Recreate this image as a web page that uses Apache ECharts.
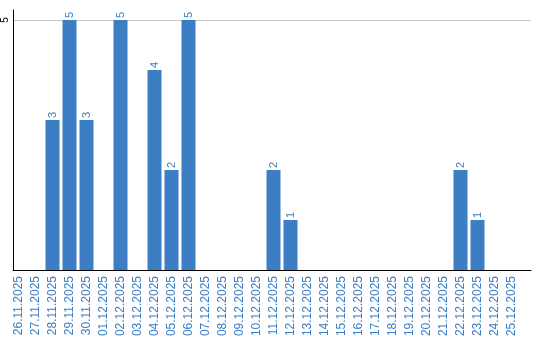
<!DOCTYPE html>
<html><head><meta charset="utf-8">
<script src="https://cdn.jsdelivr.net/npm/echarts@6/dist/echarts.min.js"></script>
<style>html,body{margin:0;padding:0;background:#fff}#c{width:540px;height:340px}</style>
</head><body><div id="c"></div>
<script>
var categories = ['26.11.2025','27.11.2025','28.11.2025','29.11.2025','30.11.2025','01.12.2025','02.12.2025','03.12.2025','04.12.2025','05.12.2025','06.12.2025','07.12.2025','08.12.2025','09.12.2025','10.12.2025','11.12.2025','12.12.2025','13.12.2025','14.12.2025','15.12.2025','16.12.2025','17.12.2025','18.12.2025','19.12.2025','20.12.2025','21.12.2025','22.12.2025','23.12.2025','24.12.2025','25.12.2025'];
var values = [0,0,3,5,3,0,5,0,4,2,5,0,0,0,0,2,1,0,0,0,0,0,0,0,0,0,2,1,0,0];
var yTicks = [5];
var yMax = 5.2;
var yInterval = 5;

var chart = echarts.init(document.getElementById('c'), null, {renderer:'canvas'});
var blue = '#3b7ec4';
var font = 'Liberation Sans, Arial, sans-serif';
chart.setOption({
  animation:false,
  grid:[
    {left:10, top:10, width:510, bottom:70},
    {left:10, top:10, right:9, bottom:70}
  ],
  xAxis:[
    {type:'category', gridIndex:0, data:categories, boundaryGap:true,
     axisLine:{show:false}, axisTick:{show:false},
     axisLabel:{rotate:90, color:blue, fontSize:12, fontFamily:font, margin:6, interval:0}},
    {type:'value', gridIndex:1, min:0, max:1,
     axisLine:{show:true, onZero:false, lineStyle:{color:'#000', width:1}}, axisTick:{show:false},
     axisLabel:{show:false}, splitLine:{show:false}}
  ],
  yAxis:[
    {type:'value', gridIndex:0, min:0, max:yMax, interval:yInterval, show:false},
    {type:'value', gridIndex:1, min:0, max:yMax, interval:yInterval,
     axisLine:{show:true, lineStyle:{color:'#000', width:1}}, axisTick:{show:false},
     axisLabel:{rotate:90, color:'#000', fontSize:10, fontFamily:font, margin:3, showMaxLabel:false, showMinLabel:false,
       formatter:function(v){return yTicks.indexOf(v)>=0?String(v):'';}},
     splitLine:{show:true, showMinLine:false, showMaxLine:false, lineStyle:{color:'#c8c8c8', width:1}}}
  ],
  series:[{
    type:'bar', xAxisIndex:0, yAxisIndex:0, data:values, barWidth:14,
    itemStyle:{color:blue},
    label:{show:true, position:'top', rotate:90, align:'left', verticalAlign:'middle',
      distance:2, color:blue, fontSize:11, fontFamily:font,
      formatter:function(p){return p.value?String(p.value):'';}}
  }]
});
</script></body></html>
